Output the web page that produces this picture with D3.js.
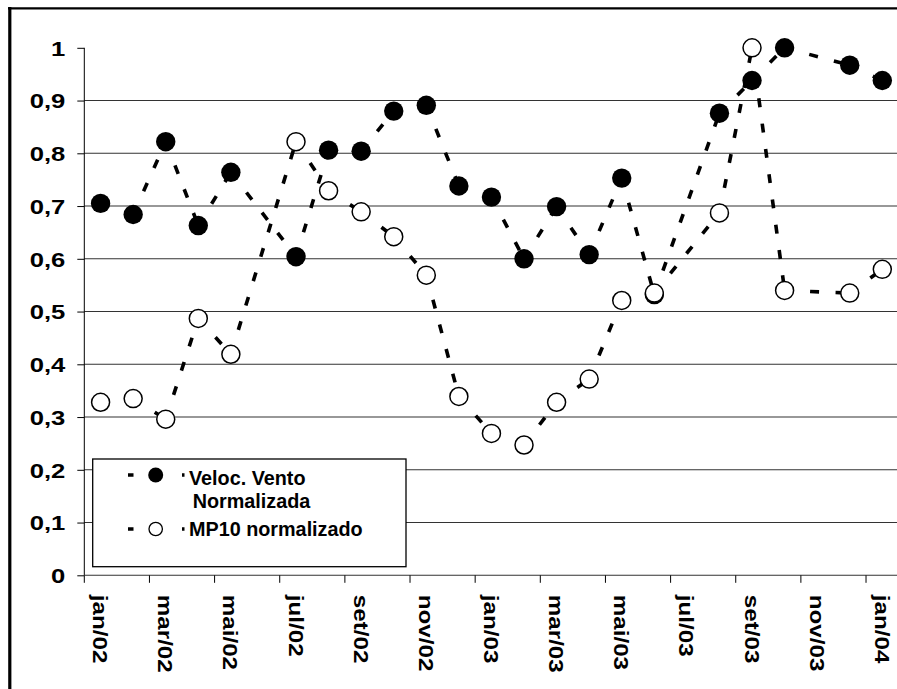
<!DOCTYPE html>
<html>
<head>
<meta charset="utf-8">
<script src="https://cdn.jsdelivr.net/npm/d3@7"></script>
<style>
  body { margin: 0; background: #fff; }
  text { font-family: "Liberation Sans", Arial, sans-serif; font-weight: bold; fill: #000; }
</style>
</head>
<body>
<div id="chart"></div>
<script>
// monthly categories, jan/02 .. jan/04
var months = ["jan/02","fev/02","mar/02","abr/02","mai/02","jun/02","jul/02","ago/02","set/02","out/02","nov/02","dez/02",
              "jan/03","fev/03","mar/03","abr/03","mai/03","jun/03","jul/03","ago/03","set/03","out/03","nov/03","dez/03","jan/04"];
// null = month without data (line joins across it)
var vento = [0.705,0.684,0.822,0.663,0.764,null,0.604,0.806,0.804,0.880,0.891,0.738,
             0.717,0.600,0.699,0.608,0.753,0.532,null,0.876,0.938,1.000,null,0.967,0.938];
var mp10  = [0.328,0.335,0.296,0.487,0.419,null,0.822,0.729,0.689,0.642,0.569,0.339,
             0.269,0.247,0.328,0.372,0.521,0.535,null,0.687,1.000,0.540,null,0.535,0.580];
var yTicks = [0,0.1,0.2,0.3,0.4,0.5,0.6,0.7,0.8,0.9,1];
var seriesNames = [["Veloc. Vento", "Normalizada"], ["MP10 normalizado"]];

var W = 897, H = 689;
var margin = {top: 47.8, left: 84.3, right: -1.6, bottom: 113.7};
var width = W - margin.left - margin.right,
    height = H - margin.top - margin.bottom;

var svg = d3.select("#chart").append("svg")
    .attr("width", W).attr("height", H);

// outer frame (right/bottom edges fall outside the picture)
svg.append("line").attr("x1", 8).attr("x2", W).attr("y1", 8.3).attr("y2", 8.3)
    .style("stroke", "#000").style("stroke-width", 2.2);
svg.append("line").attr("x1", 9.8).attr("x2", 9.8).attr("y1", 7).attr("y2", H)
    .style("stroke", "#000").style("stroke-width", 3.2);

var g = svg.append("g").attr("transform", "translate(" + margin.left + "," + margin.top + ")");

var x = d3.scaleBand().domain(months).range([0, width]).padding(0);
var y = d3.scaleLinear().domain([0, 1]).range([height, 0]);
var bw = x.bandwidth();
var fmt = d3.formatLocale({decimal: ",", thousands: ".", grouping: [3], currency: ["", ""]}).format(".1~f");

// gridlines
g.selectAll("line.grid")
  .data(yTicks.filter(function(d){ return d > 0 && d < 1; }))
  .enter().append("line")
    .attr("class", "grid")
    .attr("x1", 0).attr("x2", width + 5)
    .attr("y1", function(d){ return y(d); })
    .attr("y2", function(d){ return y(d); })
    .style("stroke", "#333").style("stroke-width", 1.1);

// y axis
var yAxis = d3.axisLeft(y).tickValues(yTicks).tickSize(7).tickSizeOuter(0).tickFormat(fmt);
var ya = g.append("g").call(yAxis);
ya.select(".domain").style("stroke", "#000").attr("d", "M0," + y(1) + "V" + y(0));
ya.selectAll(".tick line").style("stroke", "#000");
ya.selectAll(".tick text")
    .attr("x", -19 / 1.25).attr("dy", "0.36em")
    .attr("transform", "scale(1.25,1)")
    .style("font-size", "20.5px");

// x axis
g.append("line").attr("x1", 0).attr("x2", width + 5)
    .attr("y1", height).attr("y2", height)
    .style("stroke", "#333").style("stroke-width", 1.1);
var tickMonths = months.filter(function(d, i){ return i % 2 === 0; });
g.selectAll("line.xtick").data(tickMonths).enter().append("line")
    .attr("class", "xtick")
    .attr("x1", function(d){ return x(d); }).attr("x2", function(d){ return x(d); })
    .attr("y1", height).attr("y2", height + 7.5)
    .style("stroke", "#000");
g.selectAll("text.xlab").data(tickMonths).enter().append("text")
    .attr("class", "xlab")
    .attr("transform", function(d){ return "translate(" + (x(d) + bw / 2) + "," + (height + 19.5) + ") rotate(90) scale(1.18,1)"; })
    .attr("dy", "0.36em")
    .style("font-size", "20.5px")
    .text(function(d){ return d; });

// series
function pts(vals) {
  var out = [];
  vals.forEach(function(v, i){ if (v !== null) out.push({m: months[i], v: v}); });
  return out;
}
function segs(p) {
  var out = [];
  for (var i = 1; i < p.length; i++) out.push([p[i - 1], p[i]]);
  return out;
}
function drawLine(p) {
  // each segment restarts the dash pattern
  g.append("g").selectAll("line").data(segs(p)).enter().append("line")
    .attr("x1", function(d){ return x(d[0].m) + bw / 2; })
    .attr("y1", function(d){ return y(d[0].v); })
    .attr("x2", function(d){ return x(d[1].m) + bw / 2; })
    .attr("y2", function(d){ return y(d[1].v); })
    .style("stroke", "#000").style("stroke-width", 3.6)
    .style("stroke-dasharray", "9,16.5");
}
var pv = pts(vento), pm = pts(mp10);

drawLine(pv);
g.append("g").selectAll("circle").data(pv).enter().append("circle")
    .attr("cx", function(d){ return x(d.m) + bw / 2; })
    .attr("cy", function(d){ return y(d.v); })
    .attr("r", 9.7).style("fill", "#000");

drawLine(pm);
g.append("g").selectAll("circle").data(pm).enter().append("circle")
    .attr("cx", function(d){ return x(d.m) + bw / 2; })
    .attr("cy", function(d){ return y(d.v); })
    .attr("r", 9).style("fill", "#fff").style("stroke", "#000").style("stroke-width", 1.5);

// legend
var lg = svg.append("g");
lg.append("rect").attr("x", 92.7).attr("y", 459).attr("width", 313.3).attr("height", 107.7)
    .style("fill", "#fff").style("stroke", "#000").style("stroke-width", 1.3);
[475, 529].forEach(function(ly, k){
  lg.append("line").attr("x1", 128).attr("x2", 184.5).attr("y1", ly).attr("y2", ly)
    .style("stroke", "#000").style("stroke-width", 3.6)
    .style("stroke-dasharray", "5.5,48.5,2.5");
  lg.append("circle").attr("cx", 155.7).attr("cy", ly)
    .attr("r", k === 0 ? 7.5 : 6.7)
    .style("fill", k === 0 ? "#000" : "#fff")
    .style("stroke", "#000").style("stroke-width", k === 0 ? 0 : 1.3);
});
lg.append("text").attr("x", 189).attr("y", 484.8).style("font-size", "19.8px").text(seriesNames[0][0]);
lg.append("text").attr("x", 192.7).attr("y", 508).style("font-size", "19.8px").text(seriesNames[0][1]);
lg.append("text").attr("x", 189).attr("y", 535.7).style("font-size", "19.8px").text(seriesNames[1][0]);
</script>
</body>
</html>
